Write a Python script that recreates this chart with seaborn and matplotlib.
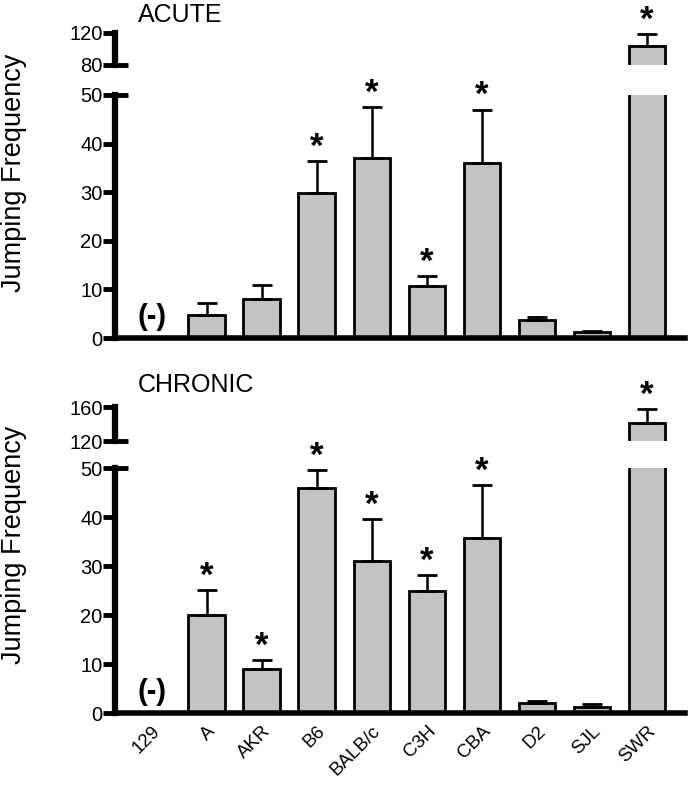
import numpy as np
import pandas as pd
import matplotlib
matplotlib.use("Agg")
import matplotlib.pyplot as plt
import seaborn as sns

STRAINS = ['129', 'A', 'AKR', 'B6', 'BALB/c', 'C3H', 'CBA', 'D2', 'SJL', 'SWR']

ACUTE_MEAN = [0, 4.8, 8.0, 29.8, 37.0, 10.7, 36.0, 3.7, 1.2, 104.0]
ACUTE_SEM = [0, 2.5, 3.0, 6.6, 10.5, 2.1, 11.0, 0.6, 0.2, 15.0]
ACUTE_SIG = ['B6', 'BALB/c', 'C3H', 'CBA', 'SWR']

CHRONIC_MEAN = [0, 20.0, 9.0, 45.9, 31.0, 24.8, 35.8, 2.0, 1.3, 140.8]
CHRONIC_SEM = [0, 5.1, 1.8, 3.7, 8.6, 3.4, 10.7, 0.4, 0.5, 16.5]
CHRONIC_SIG = ['A', 'AKR', 'B6', 'BALB/c', 'C3H', 'CBA', 'SWR']

BAR_COLOR = '#c3c3c3'


def setup_style():
    sns.set_style('ticks')
    plt.rcParams.update({
        'font.family': ['Liberation Sans', 'DejaVu Sans'],
        'axes.linewidth': 4.5,
        'axes.edgecolor': 'black',
        'xtick.labelsize': 13.5,
        'ytick.labelsize': 14.5,
        'text.color': 'black',
        'xtick.color': 'black',
        'ytick.color': 'black',
    })


def draw_bars(ax, df):
    sns.barplot(data=df, x='strain', y='mean', order=STRAINS, color=BAR_COLOR,
                edgecolor='black', linewidth=2, width=0.67, errorbar=None,
                saturation=1, ax=ax)
    pos = np.arange(len(df))
    ax.errorbar(pos, df['mean'], yerr=[np.zeros(len(df)), df['sem']],
                fmt='none', ecolor='black', elinewidth=1.8, capsize=7, capthick=2,
                zorder=1)
    ax.set_xlim(-0.67, 9.69)
    ax.set_xlabel('')
    ax.set_ylabel('')


def draw_panel(fig, df, sig, lower_rect, upper_rect, upper_lim, title, title_y,
               ylabel_y, show_xlabels):
    ax_lo = fig.add_axes(lower_rect)
    ax_hi = fig.add_axes(upper_rect)
    for ax in (ax_lo, ax_hi):
        draw_bars(ax, df)
        sns.despine(ax=ax, top=True, right=True)
        ax.tick_params(axis='y', length=9, width=3.5, pad=0)

    # lower segment
    ax_lo.set_ylim(0, 50)
    ax_lo.set_yticks([0, 10, 20, 30, 40, 50])
    ax_lo.spines['bottom'].set_linewidth(4)
    ax_lo.tick_params(axis='x', length=0, pad=7)
    if show_xlabels:
        ax_lo.set_xticks(range(len(STRAINS)))
        ax_lo.set_xticklabels(STRAINS, rotation=45, ha='right', va='top',
                              rotation_mode='anchor')
    else:
        ax_lo.set_xticklabels([])

    # upper segment
    ax_hi.set_ylim(*upper_lim)
    ax_hi.set_yticks(list(upper_lim))
    ax_hi.spines['bottom'].set_visible(False)
    ax_hi.tick_params(axis='x', length=0, labelbottom=False)

    # break marks
    for ax, yy in ((ax_lo, 1), (ax_hi, 0)):
        ax.plot([0, 0.022], [yy, yy], transform=ax.transAxes, color='black',
                lw=3.5, clip_on=False, solid_capstyle='butt')

    # significance stars
    for i, row in df.iterrows():
        if row['strain'] not in sig:
            continue
        top = row['mean'] + row['sem']
        ax = ax_hi if top > 50 else ax_lo
        ax.annotate('*', (i, top), xytext=(0, -2), textcoords='offset points',
                    ha='center', va='bottom', fontsize=25, fontweight='bold',
                    annotation_clip=False)

    ax_lo.text(0, 1.5, '(-)', ha='center', va='bottom', fontsize=21,
               fontweight='bold')

    fig.text(0.2, title_y, title, fontsize=18, ha='left', va='center')
    fig.text(0.02, ylabel_y, 'Jumping Frequency', fontsize=19.5, rotation=90,
             ha='center', va='center')


def main():
    setup_style()
    acute = pd.DataFrame({'strain': STRAINS, 'mean': ACUTE_MEAN, 'sem': ACUTE_SEM})
    chronic = pd.DataFrame({'strain': STRAINS, 'mean': CHRONIC_MEAN, 'sem': CHRONIC_SEM})

    fig = plt.figure(figsize=(6.9, 7.85), dpi=100)
    left, width = 0.1667, 0.826
    draw_panel(fig, acute, ACUTE_SIG,
               [left, 0.5694, width, 0.3096], [left, 0.9172, width, 0.0408],
               (80, 120), 'ACUTE', 0.981, 0.78, False)
    draw_panel(fig, chronic, CHRONIC_SIG,
               [left, 0.0917, width, 0.3121], [left, 0.4382, width, 0.0433],
               (120, 160), 'CHRONIC', 0.509, 0.306, True)

    fig.savefig('out.png', dpi=100)


if __name__ == '__main__':
    main()
